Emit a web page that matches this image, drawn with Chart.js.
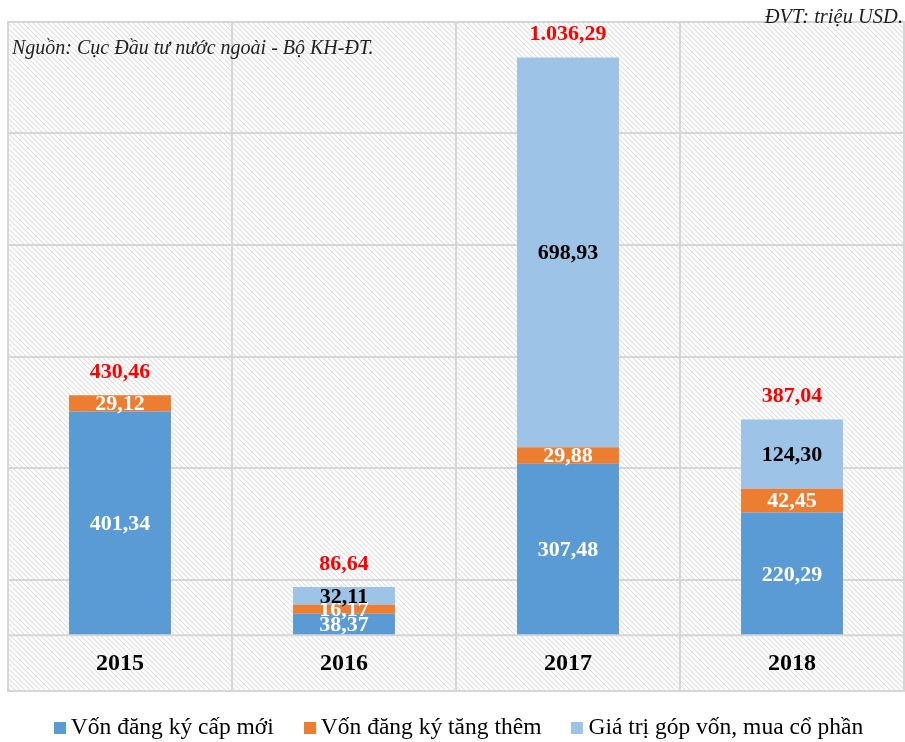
<!DOCTYPE html>
<html>
<head>
<meta charset="utf-8">
<script src="https://cdn.jsdelivr.net/npm/chart.js@4/dist/chart.umd.min.js"></script>
<style>
  html, body { margin: 0; padding: 0; background: #fff; }
  #wrap { position: relative; width: 905px; height: 742px; }
  .note { position: absolute; font-family: 'Liberation Serif', serif; font-style: italic; color: #222; white-space: nowrap; }
  #legend { position: absolute; left: 6px; top: 713px; width: 905px; display: flex; justify-content: center; gap: 30px;
            font-family: 'Liberation Serif', serif; font-size: 23.5px; color: #000; white-space: nowrap; }
  #legend .item { display: flex; align-items: center; }
  #legend .box { width: 12px; height: 12px; margin-right: 5px; margin-top: 2px; }
</style>
</head>
<body>
<div id="wrap">
  <canvas id="fdiChart" width="905" height="742"></canvas>
  <div class="note" style="left:12px; top:36px; font-size:20px;">Nguồn: Cục Đầu tư nước ngoài - Bộ KH-ĐT.</div>
  <div class="note" style="right:2px; top:5px; font-size:20.5px;">ĐVT: triệu USD.</div>
  <div id="legend"></div>
</div>
<script>
// số liệu (triệu USD)
var years = ['2015', '2016', '2017', '2018'];
var capMoi = [401.34, 38.37, 307.48, 220.29];
var tangThem = [29.12, 16.17, 29.88, 42.45];
var gopVon = [0, 32.11, 698.93, 124.30];
var tongCong = [430.46, 86.64, 1036.29, 387.04];
var seriesNames = ['Vốn đăng ký cấp mới', 'Vốn đăng ký tăng thêm', 'Giá trị góp vốn, mua cổ phần'];
var seriesColors = ['#5b9bd5', '#ed7d31', '#9dc3e6'];

function fmt(v) {
    var s = v.toFixed(2).split('.');
    s[0] = s[0].replace(/\B(?=(\d{3})+(?!\d))/g, '.');
    return s[0] + ',' + s[1];
}

// nền gạch chéo
function hatchPattern(ctx) {
    var c = document.createElement('canvas');
    c.width = 5; c.height = 5;
    var p = c.getContext('2d');
    p.fillStyle = '#ffffff';
    p.fillRect(0, 0, 5, 5);
    p.strokeStyle = '#e0e0e0';
    p.lineWidth = 1.2;
    p.beginPath();
    p.moveTo(-1, -1); p.lineTo(6, 6);
    p.moveTo(-1, 4); p.lineTo(1, 6);
    p.moveTo(4, -1); p.lineTo(6, 1);
    p.stroke();
    return ctx.createPattern(c, 'repeat');
}

var bgPlugin = {
    id: 'bgHatch',
    beforeDraw: function (chart) {
        var a = chart.chartArea, ctx = chart.ctx;
        ctx.save();
        ctx.fillStyle = hatchPattern(ctx);
        ctx.fillRect(a.left, a.top, a.right - a.left, a.bottom - a.top);
        ctx.restore();
    },
    afterDraw: function (chart) {
        var a = chart.chartArea, ctx = chart.ctx;
        var y0 = chart.scales.y.getPixelForValue(0);
        ctx.save();
        ctx.strokeStyle = '#d6d6d6';
        ctx.lineWidth = 2;
        ctx.beginPath();
        ctx.moveTo(a.left, y0); ctx.lineTo(a.right, y0);
        ctx.stroke();
        ctx.strokeRect(a.left, a.top, a.right - a.left, a.bottom - a.top);
        ctx.restore();
    }
};

var labelPlugin = {
    id: 'valueLabels',
    afterDatasetsDraw: function (chart) {
        var ctx = chart.ctx, xs = chart.scales.x, ys = chart.scales.y;
        ctx.save();
        ctx.textAlign = 'center';
        ctx.textBaseline = 'middle';
        ctx.font = 'bold 22px "Liberation Serif", serif';
        chart.data.datasets.forEach(function (ds, di) {
            var meta = chart.getDatasetMeta(di);
            meta.data.forEach(function (bar, i) {
                var v = ds.data[i];
                if (!v) return;
                ctx.fillStyle = di === 2 ? '#000000' : '#ffffff';
                ctx.fillText(fmt(v), bar.x, (bar.y + bar.base) / 2 + 1);
            });
        });
        // tổng
        ctx.fillStyle = '#ff0000';
        tongCong.forEach(function (t, i) {
            ctx.fillText(fmt(t), xs.getPixelForValue(i), ys.getPixelForValue(t) - 23);
        });
        // năm
        ctx.fillStyle = '#000000';
        ctx.font = 'bold 24px "Liberation Serif", serif';
        years.forEach(function (y, i) {
            ctx.fillText(y, xs.getPixelForValue(i), ys.getPixelForValue(-50) + 1);
        });
        ctx.restore();
    }
};

var ctx = document.getElementById('fdiChart').getContext('2d');
var chart = new Chart(ctx, {
    type: 'bar',
    data: {
        labels: years,
        datasets: [{
            label: seriesNames[0],
            data: capMoi,
            backgroundColor: seriesColors[0]
        }, {
            label: seriesNames[1],
            data: tangThem,
            backgroundColor: seriesColors[1]
        }, {
            label: seriesNames[2],
            data: gopVon,
            backgroundColor: seriesColors[2]
        }]
    },
    options: {
        responsive: false,
        animation: false,
        categoryPercentage: 1,
        barPercentage: 0.455,
        layout: { padding: { left: 8, right: 1, top: 22, bottom: 51 } },
        plugins: {
            legend: { display: false },
            tooltip: { enabled: false }
        },
        scales: {
            x: {
                stacked: true,
                grid: { offset: true, color: '#d6d6d6', lineWidth: 2, drawTicks: false },
                border: { display: false },
                ticks: { display: false }
            },
            y: {
                stacked: true,
                min: -100,
                max: 1100,
                ticks: { display: false, stepSize: 200 },
                grid: { color: '#d6d6d6', lineWidth: 2, drawTicks: false },
                border: { display: false }
            }
        }
    },
    plugins: [bgPlugin, labelPlugin]
});

// chú thích
var legend = document.getElementById('legend');
chart.data.datasets.forEach(function (ds) {
    var item = document.createElement('div');
    item.className = 'item';
    var box = document.createElement('span');
    box.className = 'box';
    box.style.background = ds.backgroundColor;
    var txt = document.createElement('span');
    txt.textContent = ds.label;
    item.appendChild(box);
    item.appendChild(txt);
    legend.appendChild(item);
});
</script>
</body>
</html>
